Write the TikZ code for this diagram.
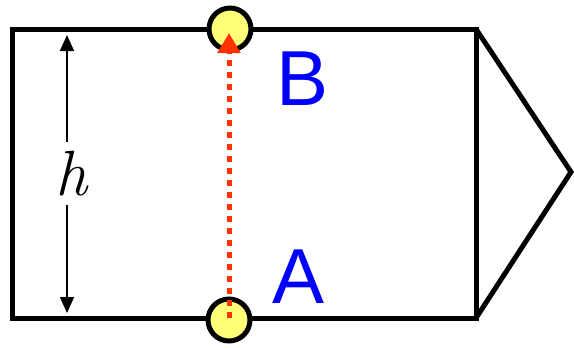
\documentclass[tikz,border=0pt]{standalone}
\usepackage{fontspec}
\newfontfamily\labelfont{Liberation Sans}
\usetikzlibrary{arrows.meta}
\definecolor{dotred}{RGB}{255,51,0}
\definecolor{dotyellow}{RGB}{255,255,120}
\begin{document}
\begin{tikzpicture}[x=1pt,y=-1pt,
  outline/.style={line width=5pt,line join=miter},
  pointdot/.style={circle,draw=black,line width=5pt,fill=dotyellow,minimum size=42pt,inner sep=0pt},
  ptlabel/.style={text=blue,font=\labelfont\fontsize{78}{78}\selectfont,inner sep=0pt},
  redline/.style={draw=dotred,line width=5pt,dash pattern=on 6pt off 6pt,-{Triangle[width=22pt,length=20pt]}},
  dimarrow/.style={line width=1.6pt,-{Triangle[width=14pt,length=16pt]}}]
\useasboundingbox (0,0) rectangle (574,349);
\coordinate (tl) at (12,29);
\coordinate (tr) at (476,29);
\coordinate (br) at (476,318);
\coordinate (bl) at (12,318);
\coordinate (tip) at (571,172);
\draw[outline] (tl) -- (tr) -- (br) -- (bl) -- cycle;
\draw[outline] (tr) -- (tip) -- (br);
\node[pointdot] (B) at (230,29) {};
\node[pointdot] (A) at (229,320) {};
\draw[redline] (229,318) -- (229,33);
\node[ptlabel,anchor=base west] (lB) at (276,105) {B};
\node[ptlabel,anchor=base west] (lA) at (272,303) {A};
\node[font=\fontsize{64}{64}\selectfont\itshape,inner sep=0pt,anchor=base] (h) at (71,195) {h};
\coordinate (htop) at (67,35);
\coordinate (hbot) at (67,313);
\draw[dimarrow] (67,142) -- (htop);
\draw[dimarrow] (67,205) -- (hbot);
\end{tikzpicture}
\end{document}
